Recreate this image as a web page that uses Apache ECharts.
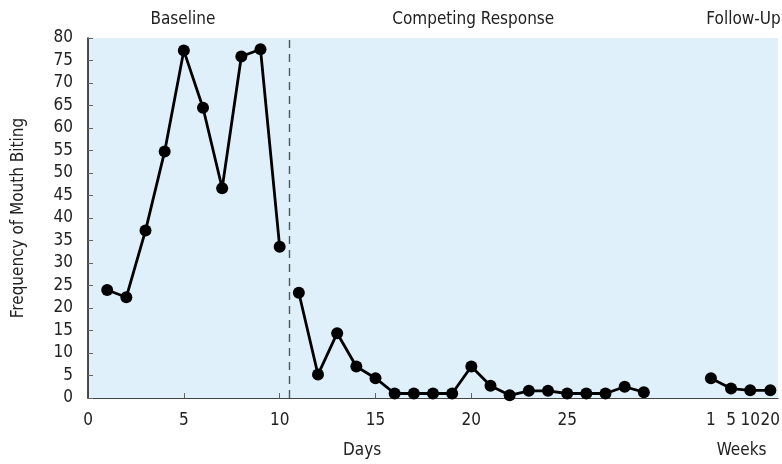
<!DOCTYPE html>
<html>
<head>
<meta charset="utf-8">
<script src="https://cdn.jsdelivr.net/npm/echarts@6/dist/echarts.min.js"></script>
<style>
html,body{margin:0;padding:0;background:#fff;}
#chart{width:782px;height:464px;}
</style>
</head>
<body>
<div id="chart"></div>
<script>
// ---- data ----
const baselineDays = [1,2,3,4,5,6,7,8,9,10];
const baselineValues = [24,22.4,37.2,54.8,77.2,64.5,46.6,75.9,77.5,33.6];
const competingDays = [11,12,13,14,15,16,17,18,19,20,21,22,23,24,25,26,27,28,29];
const competingValues = [23.4,5.2,14.4,7.0,4.4,1.0,1.0,1.0,1.0,7.0,2.7,0.6,1.6,1.6,1.0,1.0,1.0,2.5,1.3];
const weekLabels = ['1','5','10','20'];
const weekPos = [32.5,33.55,34.55,35.6];
const weekValues = [4.4,2.1,1.7,1.7];
const dayTicks = [0,5,10,15,20,25];
const phaseLabels = ['Baseline','Competing Response','Follow-Up'];
const phasePos = [4.95,20.1,34.2];
const phaseChange = 10.5;
const unitLabels = ['Days','Weeks'];
const unitPos = [14.3,34.1];

const FONT = '"DejaVu Sans Condensed", "DejaVu Sans", sans-serif';
const FS = 17;

const chart = echarts.init(document.getElementById('chart'), null, {renderer:'canvas'});

function lookup(vals, labels) {
  return function (v) {
    for (let i = 0; i < vals.length; i++) {
      if (Math.abs(vals[i] - v) < 0.02) return labels[i];
    }
    return '';
  };
}
const bottomVals = dayTicks.concat(weekPos);
const bottomLabels = dayTicks.map(String).concat(weekLabels);

const txt = {color:'#222',fontFamily:FONT,fontSize:FS};
const lineSeries = (xs, ys) => ({
  type:'line',xAxisIndex:0,
  data:xs.map((d,i)=>[d,ys[i]]),
  symbol:'circle',symbolSize:12,
  lineStyle:{color:'#000',width:2.8},
  itemStyle:{color:'#000'}
});

const s0 = lineSeries(baselineDays, baselineValues);
s0.markLine = {
  silent:true,symbol:'none',label:{show:false},
  lineStyle:{color:'#555',type:[8,6],width:1.4},
  data:[{xAxis:phaseChange}]
};

const option = {
  animation:false,
  backgroundColor:'#ffffff',
  grid:{left:88,right:4,top:38,bottom:66,show:true,backgroundColor:'#dff0fb',borderWidth:0,
        containLabel:false,outerBoundsMode:'none'},
  xAxis:[
    {
      type:'value',min:0,max:36,position:'bottom',
      splitLine:{show:false},
      axisLine:{show:true,lineStyle:{color:'#444',width:1.2}},
      axisTick:{show:true,inside:true,length:5,lineStyle:{color:'#666'},customValues:[5,10,15,20,25]},
      axisLabel:Object.assign({show:true,margin:14,hideOverlap:false,showMinLabel:true,showMaxLabel:true,
        customValues:bottomVals,
        formatter:lookup(bottomVals,bottomLabels)},txt)
    },
    {
      type:'value',min:0,max:36,position:'top',
      splitLine:{show:false},axisLine:{show:false},axisTick:{show:false},
      axisLabel:Object.assign({show:true,margin:10,hideOverlap:false,
        customValues:phasePos,formatter:lookup(phasePos,phaseLabels)},txt)
    },
    {
      type:'value',min:0,max:36,position:'bottom',
      splitLine:{show:false},axisLine:{show:false},axisTick:{show:false},
      axisLabel:Object.assign({show:true,margin:44,hideOverlap:false,
        customValues:unitPos,formatter:lookup(unitPos,unitLabels)},txt)
    }
  ],
  yAxis:{
    type:'value',min:0,max:80,interval:5,
    name:'Frequency of Mouth Biting',nameLocation:'middle',nameGap:61,
    nameTextStyle:txt,
    splitLine:{show:false},
    axisLine:{show:true,lineStyle:{color:'#111',width:1.5}},
    axisTick:{show:true,inside:true,length:5,lineStyle:{color:'#666'}},
    axisLabel:Object.assign({margin:15,hideOverlap:false},txt)
  },
  series:[
    s0,
    lineSeries(competingDays, competingValues),
    lineSeries(weekPos, weekValues)
  ]
};
chart.setOption(option);
</script>
</body>
</html>
